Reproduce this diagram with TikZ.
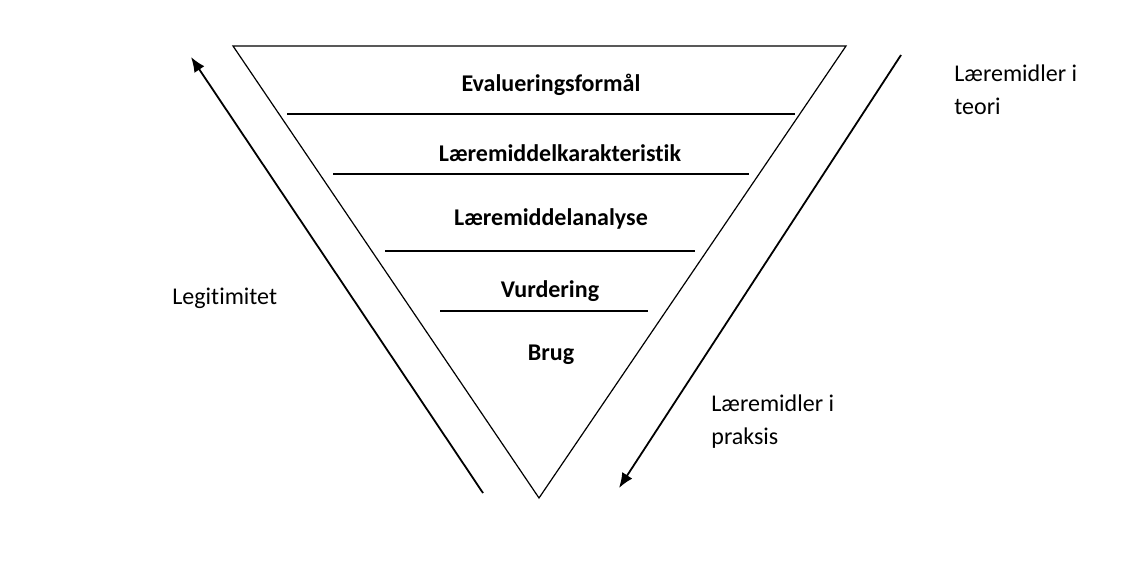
\documentclass[tikz,border=0pt]{standalone}
\usepackage{fontspec}
\setmainfont{Carlito}[Ligatures=NoCommon]
\usetikzlibrary{arrows.meta, positioning, calc}
\tikzset{
    level/.style={
        font=\fontsize{12}{14}\selectfont\bfseries,
        inner sep=0pt,
        anchor=base,
    },
    side/.style={
        font=\fontsize{12}{16.5}\selectfont,
        inner sep=0pt,
        align=left,
        anchor=base west,
    },
    divider/.style={
        line width=0.6pt,
    },
    flow/.style={
        line width=0.9pt,
        -{Latex[length=7.5pt,width=6pt]},
    },
}

\begin{document}
\begin{tikzpicture}[x=0.5pt, y=-0.5pt]
      \useasboundingbox (0,0) rectangle (1134,561);

      % the funnel
      \coordinate (tl) at (233,46);
      \coordinate (tr) at (846,46);
      \coordinate (bt) at (539,498);
      \draw[divider] (tl) -- (tr) -- (bt) -- cycle;

      \draw[divider] (287,114) -- (795,114);
      \draw[divider] (333,174) -- (749,174);
      \draw[divider] (385,251) -- (695,251);
      \draw[divider] (440,311) -- (648,311);

      \node[level] (l1) at (551,92) {Evalueringsformål};
      \node[level] (l2) at (560,162) {Læremiddelkarakteristik};
      \node[level] (l3) at (551,226) {Læremiddelanalyse};
      \node[level] (l4) at (550,297) {Vurdering};
      \node[level] (l5) at (551,360) {Brug};

      % arrows on the sides
      \coordinate (upfrom) at (483,493);
      \coordinate (upto) at (191,57);
      \coordinate (downfrom) at (901,55);
      \coordinate (downto) at (619,488);
      \draw[flow] (upfrom) -- (upto);
      \draw[flow] (downfrom) -- (downto);

      % base is on the last line
      \node[side] (legit) at (172,304) {Legitimitet};
      \node[side] (teori) at (954,115) {Læremidler i\\teori};
      \node[side] (praksis) at (711,444) {Læremidler i\\praksis};

    \end{tikzpicture}
\end{document}
